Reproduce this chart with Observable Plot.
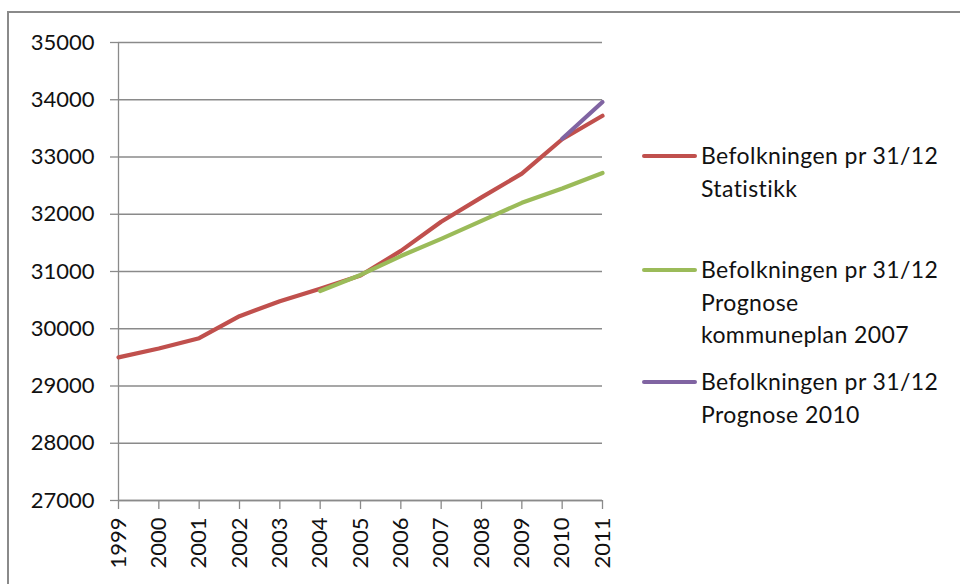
<!DOCTYPE html>
<html>
<head>
<meta charset="utf-8">
<script src="https://cdn.jsdelivr.net/npm/d3@7"></script>
<script src="https://cdn.jsdelivr.net/npm/@observablehq/plot@0.6"></script>
<style>
  html, body { margin: 0; padding: 0; background: #fff; overflow: hidden; }
  #wrap { position: relative; width: 960px; height: 584px; overflow: hidden; font-family: Lato, "Open Sans", sans-serif; }
  #frame { position: absolute; left: 7px; top: 11px; width: 1000px; height: 700px; border: 2px solid #8a8a8a; box-sizing: border-box; }
  #chart { position: absolute; left: 0; top: 0; }
  #legend { position: absolute; left: 642px; top: 0; }
  .item { position: absolute; left: 0; width: 320px; }
  .item .sw { position: absolute; left: 0; width: 55px; height: 4px; border-radius: 2px; }
  .item .lab { position: absolute; left: 59px; top: 0; font-size: 23px; letter-spacing: 0.4px; line-height: 32.5px; color: #111; white-space: nowrap; }
</style>
</head>
<body>
<div id="wrap">
  <div id="frame"></div>
  <div id="chart"></div>
  <div id="legend"></div>
</div>
<script>
const years = [1999, 2000, 2001, 2002, 2003, 2004, 2005, 2006, 2007, 2008, 2009, 2010, 2011];
const statistikk = [29500, 29655, 29835, 30220, 30480, 30700, 30930, 31360, 31870, 32295, 32710, 33310, 33720];
const progYears2007 = [2004, 2005, 2006, 2007, 2008, 2009, 2010, 2011];
const prognose2007 = [30660, 30940, 31270, 31570, 31885, 32200, 32450, 32720];
const progYears2010 = [2010, 2011];
const prognose2010 = [33320, 33960];
const yTicks = [27000, 28000, 29000, 30000, 31000, 32000, 33000, 34000, 35000];
const seriesNames = [
  "Befolkningen pr 31/12 Statistikk",
  "Befolkningen pr 31/12 Prognose kommuneplan 2007",
  "Befolkningen pr 31/12 Prognose 2010"
];
const legendLines = [
  ["Befolkningen pr 31/12", "Statistikk"],
  ["Befolkningen pr 31/12", "Prognose", "kommuneplan 2007"],
  ["Befolkningen pr 31/12", "Prognose 2010"]
];
const colors = ["#c0504d", "#9bbb59", "#8064a2"];

const s1 = years.map((y, i) => ({year: y, value: statistikk[i], series: seriesNames[0]}));
const s2 = progYears2007.map((y, i) => ({year: y, value: prognose2007[i], series: seriesNames[1]}));
const s3 = progYears2010.map((y, i) => ({year: y, value: prognose2010[i], series: seriesNames[2]}));

const gridColor = "#8a8a8a";

const chart = Plot.plot({
  width: 960,
  height: 584,
  marginLeft: 118,
  marginRight: 358,
  marginTop: 42,
  marginBottom: 84,
  style: {fontFamily: "Lato, 'Open Sans', sans-serif", fontSize: "22px", background: "transparent", color: "#111"},
  x: {domain: [1999, 2011], label: null},
  y: {domain: [27000, 35000], label: null},
  color: {domain: seriesNames, range: colors},
  marks: [
    Plot.gridY(yTicks, {stroke: gridColor, strokeOpacity: 1, strokeWidth: 1.3}),
    Plot.ruleX([1999], {stroke: gridColor, strokeWidth: 1.3}),
    Plot.ruleY([27000], {stroke: gridColor, strokeWidth: 1.3}),
    Plot.axisY({ticks: yTicks, label: null, tickSize: 8, tickPadding: 16, stroke: gridColor, strokeWidth: 1.3, fill: "#111", fontSize: 22, tickFormat: d => String(d)}),
    Plot.axisX({ticks: years, label: null, tickSize: 9, tickPadding: 8, tickRotate: -90, stroke: gridColor, strokeWidth: 1.3, fill: "#111", fontSize: 22, tickFormat: d => String(d)}),
    Plot.line(s1, {x: "year", y: "value", stroke: "series", strokeWidth: 4.2, strokeLinejoin: "round", strokeLinecap: "round"}),
    Plot.line(s2, {x: "year", y: "value", stroke: "series", strokeWidth: 4.2, strokeLinejoin: "round", strokeLinecap: "round"}),
    Plot.line(s3, {x: "year", y: "value", stroke: "series", strokeWidth: 4.2, strokeLinejoin: "round", strokeLinecap: "round"})
  ]
});
document.getElementById("chart").appendChild(chart);

// legend (HTML)
const legend = document.getElementById("legend");
const itemTops = [139, 253, 365];
legendLines.forEach((lines, i) => {
  const item = document.createElement("div");
  item.className = "item";
  item.style.top = itemTops[i] + "px";
  const sw = document.createElement("div");
  sw.className = "sw";
  sw.style.background = colors[i];
  sw.style.top = "14.5px";
  const lab = document.createElement("div");
  lab.className = "lab";
  lab.innerHTML = lines.join("<br>");
  item.appendChild(sw);
  item.appendChild(lab);
  legend.appendChild(item);
});
</script>
</body>
</html>
